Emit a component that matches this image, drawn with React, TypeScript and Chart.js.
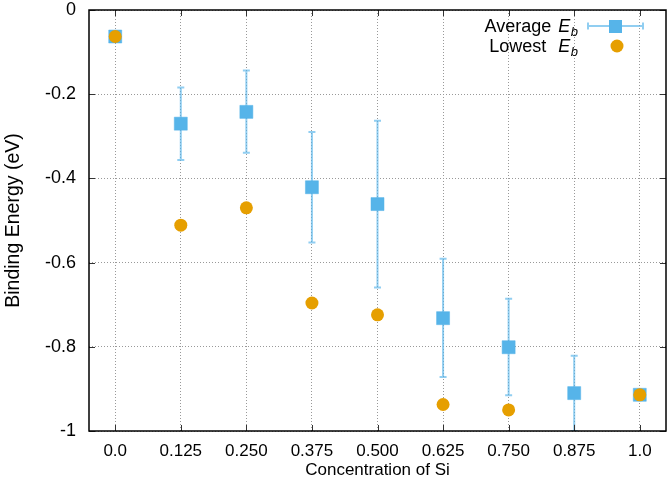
import React, { useEffect, useRef } from "react";
import { Chart, registerables } from "chart.js";

Chart.register(...registerables);

const concentrations = [0, 0.125, 0.25, 0.375, 0.5, 0.625, 0.75, 0.875, 1.0];
const xTickLabels = ["0.0", "0.125", "0.250", "0.375", "0.500", "0.625", "0.750", "0.875", "1.0"];
const averageEb = [-0.063, -0.27, -0.242, -0.421, -0.461, -0.732, -0.801, -0.91, -0.914];
const averageErrHigh = [null, -0.184, -0.144, -0.29, -0.263, -0.591, -0.686, -0.821, null];
const averageErrLow = [null, -0.356, -0.339, -0.552, -0.659, -0.872, -0.915, -1.0, null];
const lowestEb = [-0.063, -0.511, -0.47, -0.696, -0.724, -0.937, -0.95, null, -0.914];

const BLUE = "#56b4e9";
const BLUE_ERR = "rgba(86,180,233,0.65)";
const ORANGE = "#e69f00";
const FONT = "'Liberation Sans', Arial, sans-serif";

const errorBarPlugin = {
  id: "errorBars",
  beforeDatasetsDraw(chart: any) {
    const { ctx, scales, chartArea } = chart;
    const xs = scales.x;
    const ys = scales.y;
    ctx.save();
    ctx.beginPath();
    ctx.rect(chartArea.left, chartArea.top, chartArea.right - chartArea.left, chartArea.bottom - chartArea.top);
    ctx.clip();
    ctx.strokeStyle = BLUE_ERR;
    ctx.lineWidth = 2;
    concentrations.forEach((c, i) => {
      const hi = averageErrHigh[i];
      const lo = averageErrLow[i];
      if (hi === null || lo === null) return;
      const px = xs.getPixelForValue(c);
      const py1 = ys.getPixelForValue(hi);
      const py2 = ys.getPixelForValue(lo);
      ctx.beginPath();
      ctx.moveTo(px, py1);
      ctx.lineTo(px, py2);
      ctx.moveTo(px - 3.5, py1);
      ctx.lineTo(px + 3.5, py1);
      ctx.moveTo(px - 3.5, py2);
      ctx.lineTo(px + 3.5, py2);
      ctx.stroke();
    });
    ctx.restore();
  },
};

const framePlugin = {
  id: "frame",
  afterDraw(chart: any) {
    const { ctx, scales, chartArea } = chart;
    const { left, right, top, bottom } = chartArea;
    const xs = scales.x;
    const ys = scales.y;
    ctx.save();
    // inward ticks
    ctx.strokeStyle = "#333";
    ctx.lineWidth = 1;
    ctx.beginPath();
    concentrations.forEach((c) => {
      const px = Math.round(xs.getPixelForValue(c)) + 0.5;
      ctx.moveTo(px, bottom);
      ctx.lineTo(px, bottom - 6);
      ctx.moveTo(px, top);
      ctx.lineTo(px, top + 6);
    });
    for (let v = -1; v <= 0.0001; v += 0.2) {
      const py = Math.round(ys.getPixelForValue(v)) + 0.5;
      ctx.moveTo(left, py);
      ctx.lineTo(left + 6, py);
      ctx.moveTo(right, py);
      ctx.lineTo(right - 6, py);
    }
    ctx.stroke();
    // frame
    ctx.strokeStyle = "#000";
    ctx.lineWidth = 1.5;
    ctx.strokeRect(left, top, right - left, bottom - top);

    // legend
    const drawEntry = (label: string, yMid: number) => {
      const rightEdge = 578;
      ctx.fillStyle = "#000";
      ctx.textBaseline = "alphabetic";
      const base = yMid + 6;
      ctx.font = `italic 13px ${FONT}`;
      const wb = ctx.measureText("b").width;
      ctx.font = `italic 18px ${FONT}`;
      const wE = ctx.measureText("E").width;
      ctx.font = `18px ${FONT}`;
      const wl = ctx.measureText(label).width;
      const xb = rightEdge - wb;
      const xE = xb - wE - 0.5;
      const xl = xE - wl - 2;
      ctx.textAlign = "left";
      ctx.fillText(label, xl, base);
      ctx.font = `italic 18px ${FONT}`;
      ctx.fillText("E", xE, base);
      ctx.font = `italic 13px ${FONT}`;
      ctx.fillText("b", xb, base + 4);
    };
    drawEntry("Average ", 26);
    drawEntry("Lowest  ", 46);
    // blue symbol
    ctx.strokeStyle = BLUE_ERR;
    ctx.lineWidth = 2;
    ctx.beginPath();
    ctx.moveTo(588, 26);
    ctx.lineTo(643, 26);
    ctx.moveTo(588, 22.5);
    ctx.lineTo(588, 29.5);
    ctx.moveTo(643, 22.5);
    ctx.lineTo(643, 29.5);
    ctx.stroke();
    ctx.fillStyle = BLUE;
    ctx.fillRect(609, 20, 13, 13);
    ctx.fillStyle = ORANGE;
    ctx.beginPath();
    ctx.arc(617, 46, 6.5, 0, Math.PI * 2);
    ctx.fill();
    ctx.restore();
  },
};

export default function App() {
  const canvasRef = useRef<HTMLCanvasElement | null>(null);

  useEffect(() => {
    if (!canvasRef.current) return;
    const avgPoints = concentrations.map((c, i) => ({ x: c, y: averageEb[i] }));
    const lowPoints = concentrations
      .map((c, i) => ({ x: c, y: lowestEb[i] }))
      .filter((p) => p.y !== null);
    const chart = new Chart(canvasRef.current, {
      type: "scatter",
      data: {
        datasets: [
          {
            label: "Average E_b",
            data: avgPoints,
            pointStyle: "rect",
            pointRadius: 9.2,
            backgroundColor: BLUE,
            borderColor: "rgba(86,180,233,0.5)",
            borderWidth: 1,
            order: 2,
          },
          {
            label: "Lowest E_b",
            data: lowPoints as any,
            pointStyle: "circle",
            pointRadius: 6.5,
            backgroundColor: ORANGE,
            borderColor: ORANGE,
            borderWidth: 0,
            order: 1,
          },
        ],
      },
      options: {
        animation: false,
        responsive: false,
        devicePixelRatio: 1,
        layout: { autoPadding: false, padding: { top: 10, right: 3, left: 0, bottom: 0 } },
        plugins: {
          legend: { display: false },
          tooltip: { enabled: false },
        },
        scales: {
          x: {
            type: "linear",
            min: -0.05,
            max: 1.05,
            afterBuildTicks: (scale: any) => {
              scale.ticks = concentrations.map((v) => ({ value: v }));
            },
            afterFit: (scale: any) => {
              scale.height = 59;
              scale.paddingLeft = 0;
              scale.paddingRight = 0;
              scale.paddingTop = 0;
              scale.paddingBottom = 0;
            },
            ticks: {
              callback: (_v: any, i: number) => xTickLabels[i],
              font: { family: FONT, size: 17 },
              color: "#000",
              padding: 10,
              maxRotation: 0,
              autoSkip: false,
            },
            grid: { color: "#999", lineWidth: 1, drawTicks: false },
            border: { display: false, dash: [1, 2] },
            title: {
              display: true,
              text: "Concentration of Si",
              font: { family: FONT, size: 17 },
              color: "#000",
              padding: { top: 0, bottom: 9 },
            },
          },
          y: {
            type: "linear",
            min: -1,
            max: 0,
            afterFit: (scale: any) => {
              scale.width = 89;
              scale.paddingLeft = 0;
              scale.paddingRight = 0;
              scale.paddingTop = 0;
              scale.paddingBottom = 0;
            },
            ticks: {
              stepSize: 0.2,
              callback: (v: any) => {
                const r = Math.round(Number(v) * 10) / 10;
                return r === 0 ? "0" : String(r);
              },
              font: { family: FONT, size: 18 },
              color: "#000",
              padding: 13,
            },
            grid: { color: "#999", lineWidth: 1, drawTicks: false },
            border: { display: false, dash: [1, 2] },
            title: {
              display: true,
              text: "Binding Energy (eV)",
              font: { family: FONT, size: 19.5 },
              color: "#000",
              padding: { top: 2, bottom: 0 },
            },
          },
        },
      },
      plugins: [errorBarPlugin, framePlugin],
    } as any);
    return () => chart.destroy();
  }, []);

  return (
    <div style={{ position: "fixed", left: 0, top: 0, width: 669, height: 490, background: "#fff" }}>
      <canvas ref={canvasRef} width={669} height={490} style={{ width: 669, height: 490, display: "block" }} />
    </div>
  );
}
